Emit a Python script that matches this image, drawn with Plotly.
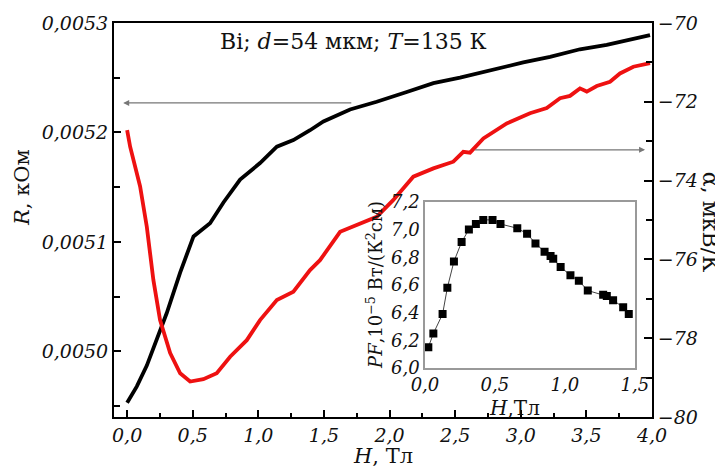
import plotly.graph_objects as go

# ---- main panel: resistance R (left axis), black curve ----
H_R = [0.00, 0.074, 0.150, 0.226, 0.302, 0.404, 0.506, 0.632, 0.734, 0.861, 1.013,
       1.141, 1.267, 1.394, 1.496, 1.699, 1.902, 2.131, 2.334, 2.537, 2.766, 3.019,
       3.223, 3.451, 3.655, 3.807, 3.985]
R_vals = [0.004953, 0.004968, 0.004987, 0.005011, 0.005035, 0.005072, 0.005105,
          0.005117, 0.005136, 0.005157, 0.005172, 0.005187, 0.005193, 0.005202,
          0.005210, 0.005221, 0.005228, 0.005237, 0.005245, 0.005250, 0.005257,
          0.005264, 0.005269, 0.005276, 0.005280, 0.005284, 0.005289]

# ---- main panel: thermopower alpha (right axis), red curve ----
H_alpha = [0.0, 0.023, 0.099, 0.150, 0.200, 0.251, 0.328, 0.404, 0.480, 0.581, 0.683,
           0.785, 0.912, 1.013, 1.141, 1.267, 1.394, 1.470, 1.623, 1.750, 1.902, 2.029,
           2.181, 2.334, 2.486, 2.562, 2.613, 2.715, 2.893, 3.070, 3.198, 3.299, 3.375,
           3.451, 3.503, 3.579, 3.680, 3.756, 3.858, 3.985]
alpha_vals = [-72.72, -73.14, -74.15, -75.17, -76.52, -77.54, -78.38, -78.89, -79.10,
              -79.04, -78.89, -78.47, -78.05, -77.54, -77.03, -76.82, -76.27, -76.02,
              -75.30, -75.13, -74.92, -74.49, -73.90, -73.69, -73.52, -73.27, -73.29,
              -72.93, -72.55, -72.29, -72.16, -71.91, -71.85, -71.66, -71.74, -71.60,
              -71.49, -71.28, -71.11, -71.02]

# ---- inset: power factor ----
H_pf = [0.024, 0.06, 0.126, 0.16, 0.207, 0.262, 0.314, 0.364, 0.417, 0.483, 0.54,
        0.66, 0.73, 0.79, 0.855, 0.898, 0.917, 0.97, 1.04, 1.10, 1.164, 1.274, 1.30,
        1.345, 1.417, 1.457]
PF_vals = [6.15, 6.25, 6.39, 6.58, 6.77, 6.91, 7.00, 7.04, 7.07, 7.07, 7.04, 7.01,
           6.97, 6.90, 6.84, 6.81, 6.79, 6.73, 6.67, 6.63, 6.56, 6.53, 6.52, 6.49,
           6.44, 6.39]

x_ticks = [0.0, 0.5, 1.0, 1.5, 2.0, 2.5, 3.0, 3.5, 4.0]
R_ticks = [0.0050, 0.0051, 0.0052, 0.0053]
alpha_ticks = [-80, -78, -76, -74, -72, -70]
inset_x_ticks = [0.0, 0.5, 1.0, 1.5]
inset_y_ticks = [6.0, 6.2, 6.4, 6.6, 6.8, 7.0, 7.2]

FONT = "DejaVu Serif"
TXT = "#111"
tickfont = dict(family=FONT, size=19, color=TXT, style="italic")

fig = go.Figure()
fig.add_trace(go.Scatter(x=H_R, y=R_vals, mode="lines",
                         line=dict(color="black", width=3.8), xaxis="x", yaxis="y"))
fig.add_trace(go.Scatter(x=H_alpha, y=alpha_vals, mode="lines",
                         line=dict(color="#ee1111", width=3.8), xaxis="x", yaxis="y2"))
fig.add_trace(go.Scatter(x=H_pf, y=PF_vals, mode="lines+markers",
                         line=dict(color="#444", width=1),
                         marker=dict(symbol="square", size=8, color="black"),
                         xaxis="x3", yaxis="y3"))

# the page body adds an 8px offset, so the figure is 8px smaller with shifted margins
fig.update_layout(
    width=715, height=460,
    margin=dict(l=106, r=71, t=15, b=51, autoexpand=False),
    paper_bgcolor="white", plot_bgcolor="white",
    showlegend=False,
    separators=", ",
    xaxis=dict(domain=[0, 1], range=[-0.1, 4.0], tickvals=x_ticks, tickformat=".1f",
               automargin=False,
               showline=True, linecolor="black", linewidth=2, mirror=True,
               ticks="inside", ticklen=7, tickwidth=2, tickcolor="black",
               minor=dict(ticks="inside", ticklen=4, tickwidth=2, dtick=0.25, tick0=0,
                          tickcolor="black"),
               showgrid=False, zeroline=False, tickfont=tickfont),
    yaxis=dict(domain=[0, 1], range=[0.00494, 0.0053], tickvals=R_ticks, tickformat=".4f",
               automargin=False,
               showline=True, linecolor="black", linewidth=2,
               ticks="inside", ticklen=7, tickwidth=2, tickcolor="black",
               minor=dict(ticks="inside", ticklen=6, tickwidth=2, dtick=0.00005,
                          tick0=0.005, tickcolor="black"),
               showgrid=False, zeroline=False, tickfont=tickfont),
    yaxis2=dict(overlaying="y", side="right", anchor="x", range=[-80, -70],
                automargin=False,
                tickvals=alpha_ticks, showline=True, linecolor="black", linewidth=2,
                ticks="inside", ticklen=8, tickwidth=2, tickcolor="black",
                minor=dict(ticks="inside", ticklen=6, tickwidth=2, dtick=1, tick0=0,
                           tickcolor="black"),
                showgrid=False, zeroline=False, tickfont=tickfont),
    xaxis3=dict(domain=[0.578, 0.968], anchor="y3", range=[0, 1.5],
                automargin=False,
                tickvals=inset_x_ticks, tickformat=".1f",
                showline=True, linecolor="#999", linewidth=1.5, mirror=True,
                ticks="", showgrid=False, zeroline=False,
                tickfont=dict(family=FONT, size=18, color=TXT, style="italic")),
    yaxis3=dict(domain=[0.124, 0.546], anchor="x3", range=[6.0, 7.2],
                automargin=False,
                tickvals=inset_y_ticks, tickformat=".1f",
                showline=True, linecolor="#999", linewidth=1.5, mirror=True,
                ticks="", showgrid=False, zeroline=False,
                tickfont=dict(family=FONT, size=18, color=TXT, style="italic")),
)

def label(text, x, y, size, angle=0):
    return dict(text=text, x=x, y=y, xref="paper", yref="paper", showarrow=False,
                xanchor="center", yanchor="middle", textangle=angle,
                font=dict(family=FONT, size=size, color=TXT))

annotations = [
    label("Bi; <i>d</i>=54 мкм; <i>T</i>=135 К", 0.446, 0.952, 22),
    label("<i>R</i>, кОм", -0.171, 0.581, 21, -90),
    label("α, мкВ/К", 1.108, 0.495, 22, 90),
    label("<i>H</i>, Тл", 0.5, -0.10, 21),
    label("<i>PF</i>,10<sup>−5</sup> Вт/(К<sup>2</sup>см)", 0.485, 0.335, 18, -90),
    label("<i>H</i>,Тл", 0.745, 0.024, 20),
    # arrows pointing to the relevant axes
    dict(x=-0.03, y=0.005227, ax=1.72, ay=0.005227, xref="x", yref="y",
         axref="x", ayref="y", text="", showarrow=True, arrowhead=2,
         arrowsize=1, arrowwidth=1.2, arrowcolor="#777"),
    dict(x=3.947, y=-73.22, ax=2.64, ay=-73.22, xref="x", yref="y2",
         axref="x", ayref="y2", text="", showarrow=True, arrowhead=2,
         arrowsize=1, arrowwidth=1.2, arrowcolor="#777"),
]
fig.update_layout(annotations=annotations)

fig.write_html("out.html")
